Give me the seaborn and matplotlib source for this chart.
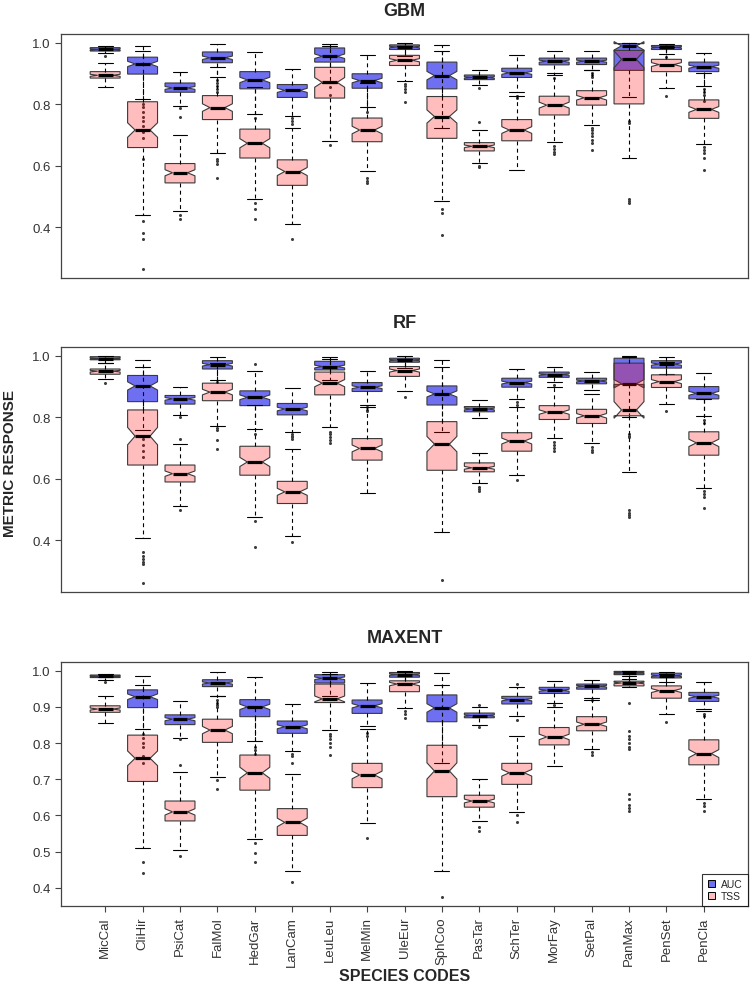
import numpy as np
import matplotlib
matplotlib.use("Agg")
import matplotlib.pyplot as plt
from matplotlib.patches import Patch
import seaborn as sns

SPECIES = ["MicCal", "CliHir", "PsiCat", "FalMol", "HedGar", "LanCam", "LeuLeu",
           "MelMin", "UleEur", "SphCoo", "PasTar", "SchTer", "MorFay", "SetPal",
           "PanMax", "PenSet", "PenCla"]

# per species: (lower whisker, q1, median, q3, upper whisker)
GBM_AUC = [
    (0.965, 0.973, 0.978, 0.984, 0.989),
    (0.817, 0.898, 0.931, 0.953, 0.990),
    (0.795, 0.839, 0.853, 0.869, 0.906),
    (0.887, 0.935, 0.951, 0.970, 0.997),
    (0.768, 0.850, 0.879, 0.906, 0.970),
    (0.763, 0.822, 0.845, 0.864, 0.913),
    (0.870, 0.937, 0.956, 0.983, 0.997),
    (0.792, 0.852, 0.877, 0.899, 0.959),
    (0.958, 0.978, 0.986, 0.993, 0.999),
    (0.724, 0.850, 0.893, 0.937, 0.993),
    (0.863, 0.880, 0.887, 0.895, 0.912),
    (0.841, 0.887, 0.902, 0.917, 0.959),
    (0.895, 0.928, 0.940, 0.950, 0.972),
    (0.910, 0.929, 0.940, 0.950, 0.972),
    (0.823, 0.910, 0.990, 0.997, 0.999),
    (0.962, 0.978, 0.985, 0.991, 0.997),
    (0.858, 0.906, 0.922, 0.937, 0.967),
]
GBM_AUC_OUT = [
    [0.958], [0.80, 0.79, 0.775, 0.76, 0.745, 0.73, 0.71, 0.69, 0.623], [0.787, 0.757],
    [0.878, 0.87, 0.86, 0.85, 0.84], [0.755], [0.755, 0.745, 0.735], [0.855, 0.83],
    [0.775], [0.945], [], [0.852], [0.828, 0.82], [0.885], [0.90, 0.895, 0.89],
    [0.746, 0.74], [0.955], [0.85, 0.84, 0.83, 0.81],
]
GBM_TSS = [
    (0.855, 0.885, 0.894, 0.906, 0.934),
    (0.441, 0.659, 0.716, 0.808, 0.972),
    (0.452, 0.544, 0.577, 0.607, 0.699),
    (0.640, 0.750, 0.789, 0.828, 0.920),
    (0.490, 0.625, 0.673, 0.719, 0.855),
    (0.411, 0.536, 0.581, 0.619, 0.724),
    (0.679, 0.820, 0.871, 0.920, 0.990),
    (0.583, 0.678, 0.716, 0.755, 0.870),
    (0.874, 0.926, 0.943, 0.959, 0.990),
    (0.486, 0.689, 0.760, 0.825, 0.972),
    (0.610, 0.648, 0.663, 0.675, 0.715),
    (0.586, 0.681, 0.716, 0.750, 0.828),
    (0.678, 0.765, 0.797, 0.826, 0.900),
    (0.732, 0.797, 0.821, 0.844, 0.910),
    (0.626, 0.801, 0.946, 0.975, 0.999),
    (0.852, 0.906, 0.929, 0.946, 0.985),
    (0.670, 0.754, 0.783, 0.814, 0.900),
]
GBM_TSS_OUT = [
    [], [0.42, 0.381, 0.36, 0.264], [0.438, 0.428], [0.622, 0.615, 0.605, 0.561],
    [0.48, 0.46, 0.425], [0.362], [0.667], [0.56, 0.55, 0.543],
    [0.866, 0.858, 0.848, 0.84, 0.806], [0.46, 0.447, 0.376], [0.743, 0.60, 0.597], [],
    [0.665, 0.655, 0.645, 0.637], [0.724, 0.715, 0.705, 0.695, 0.685, 0.675, 0.651],
    [0.49, 0.485, 0.478], [0.828], [0.66, 0.65, 0.64, 0.626, 0.586],
]

RF_AUC = [
    (0.975, 0.987, 0.991, 0.997, 0.999),
    (0.760, 0.851, 0.902, 0.936, 0.987),
    (0.808, 0.843, 0.860, 0.871, 0.898),
    (0.922, 0.957, 0.971, 0.984, 0.995),
    (0.761, 0.838, 0.865, 0.886, 0.951),
    (0.751, 0.808, 0.827, 0.845, 0.895),
    (0.920, 0.954, 0.965, 0.982, 0.995),
    (0.840, 0.884, 0.898, 0.913, 0.951),
    (0.960, 0.979, 0.986, 0.992, 0.998),
    (0.753, 0.840, 0.876, 0.902, 0.987),
    (0.799, 0.818, 0.827, 0.835, 0.857),
    (0.859, 0.898, 0.913, 0.927, 0.958),
    (0.914, 0.930, 0.939, 0.947, 0.963),
    (0.889, 0.909, 0.918, 0.927, 0.947),
    (0.800, 0.907, 0.909, 0.992, 0.997),
    (0.940, 0.960, 0.973, 0.984, 0.995),
    (0.804, 0.860, 0.878, 0.900, 0.943),
]
RF_AUC_OUT = [
    [], [0.73, 0.71, 0.69, 0.67], [0.80], [0.915], [0.973, 0.745],
    [0.745, 0.74, 0.735, 0.728], [], [0.832, 0.825, 0.82], [], [], [], [0.85, 0.84],
    [0.905], [], [0.745, 0.74, 0.735], [], [0.79, 0.78],
]
RF_TSS = [
    (0.924, 0.940, 0.950, 0.957, 0.975),
    (0.408, 0.645, 0.739, 0.824, 0.963),
    (0.512, 0.590, 0.617, 0.645, 0.713),
    (0.772, 0.854, 0.882, 0.911, 0.975),
    (0.476, 0.612, 0.655, 0.706, 0.840),
    (0.413, 0.520, 0.558, 0.592, 0.697),
    (0.767, 0.873, 0.911, 0.947, 0.990),
    (0.554, 0.661, 0.699, 0.731, 0.835),
    (0.884, 0.933, 0.952, 0.965, 0.990),
    (0.427, 0.628, 0.713, 0.786, 0.965),
    (0.587, 0.623, 0.636, 0.652, 0.685),
    (0.612, 0.690, 0.723, 0.750, 0.832),
    (0.732, 0.793, 0.817, 0.838, 0.900),
    (0.718, 0.780, 0.805, 0.826, 0.875),
    (0.623, 0.805, 0.824, 0.976, 0.998),
    (0.842, 0.897, 0.916, 0.938, 0.980),
    (0.572, 0.677, 0.717, 0.753, 0.860),
]
RF_TSS_OUT = [
    [0.911], [0.362, 0.35, 0.34, 0.33, 0.324, 0.262], [0.728, 0.50],
    [0.765, 0.758, 0.726, 0.697], [0.462, 0.378], [0.395],
    [0.753, 0.745, 0.735, 0.725, 0.718], [], [0.865], [0.272], [0.574, 0.567, 0.56],
    [0.596], [0.72, 0.71, 0.70, 0.69], [0.704, 0.695, 0.688],
    [0.498, 0.49, 0.482, 0.476], [0.82], [0.56, 0.55, 0.54, 0.506],
]

MAX_AUC = [
    (0.974, 0.981, 0.984, 0.988, 0.991),
    (0.838, 0.898, 0.928, 0.947, 0.984),
    (0.814, 0.851, 0.866, 0.878, 0.916),
    (0.929, 0.956, 0.966, 0.975, 0.995),
    (0.806, 0.873, 0.900, 0.920, 0.982),
    (0.778, 0.827, 0.845, 0.861, 0.908),
    (0.930, 0.966, 0.979, 0.989, 0.997),
    (0.846, 0.882, 0.903, 0.919, 0.966),
    (0.965, 0.982, 0.989, 0.995, 0.998),
    (0.746, 0.859, 0.897, 0.933, 0.993),
    (0.850, 0.870, 0.876, 0.883, 0.900),
    (0.875, 0.908, 0.920, 0.929, 0.956),
    (0.912, 0.937, 0.946, 0.954, 0.972),
    (0.924, 0.949, 0.957, 0.963, 0.974),
    (0.978, 0.989, 0.994, 0.998, 0.999),
    (0.970, 0.980, 0.986, 0.993, 0.997),
    (0.894, 0.915, 0.928, 0.940, 0.970),
]
MAX_AUC_OUT = [
    [0.97], [0.825, 0.815, 0.80, 0.79, 0.765, 0.745], [0.81], [0.92, 0.91, 0.905, 0.90],
    [0.79, 0.78, 0.77], [0.77, 0.765, 0.745], [], [0.829, 0.82], [], [], [0.905, 0.845],
    [0.962, 0.865], [0.905], [0.92], [0.97, 0.965], [], [0.88, 0.875],
]
MAX_TSS = [
    (0.855, 0.885, 0.894, 0.903, 0.931),
    (0.509, 0.694, 0.758, 0.822, 0.960),
    (0.506, 0.585, 0.610, 0.640, 0.720),
    (0.705, 0.802, 0.836, 0.866, 0.930),
    (0.536, 0.670, 0.718, 0.767, 0.900),
    (0.448, 0.545, 0.581, 0.619, 0.716),
    (0.837, 0.912, 0.922, 0.963, 0.990),
    (0.580, 0.677, 0.712, 0.744, 0.840),
    (0.896, 0.942, 0.963, 0.972, 0.995),
    (0.446, 0.652, 0.723, 0.794, 0.960),
    (0.586, 0.623, 0.640, 0.656, 0.702),
    (0.610, 0.686, 0.718, 0.744, 0.820),
    (0.737, 0.795, 0.817, 0.843, 0.900),
    (0.783, 0.834, 0.852, 0.873, 0.920),
    (0.954, 0.958, 0.966, 0.971, 0.985),
    (0.880, 0.924, 0.945, 0.958, 0.990),
    (0.645, 0.740, 0.771, 0.809, 0.890),
]
MAX_TSS_OUT = [
    [], [0.471, 0.440], [0.740, 0.488], [0.698, 0.672], [0.525, 0.497, 0.471], [0.417],
    [0.825, 0.82, 0.81, 0.80, 0.79, 0.767], [0.538], [0.889, 0.88, 0.868], [0.375],
    [0.569, 0.557], [0.60, 0.582], [], [0.775, 0.768],
    [0.912, 0.834, 0.82, 0.81, 0.80, 0.79, 0.783, 0.658, 0.645, 0.63, 0.62, 0.612],
    [0.857], [0.635, 0.625, 0.612],
]

PANELS = [
    ("GBM", GBM_AUC, GBM_AUC_OUT, GBM_TSS, GBM_TSS_OUT, [0.4, 0.6, 0.8, 1.0]),
    ("RF", RF_AUC, RF_AUC_OUT, RF_TSS, RF_TSS_OUT, [0.4, 0.6, 0.8, 1.0]),
    ("MAXENT", MAX_AUC, MAX_AUC_OUT, MAX_TSS, MAX_TSS_OUT,
     [0.4, 0.5, 0.6, 0.7, 0.8, 0.9, 1.0]),
]

N_RUNS = 100  # model runs per box, used for the R style notch
AUC_COLOR = "#6F6FF2"
TSS_COLOR = (1.0, 0.0, 0.0, 0.26)
TSS_LEGEND = "#FFBDBD"

sns.set_style("ticks")
plt.rcParams["font.family"] = ["Liberation Sans", "DejaVu Sans"]


def box_stats(five, outliers):
    """Turn (lo, q1, med, q3, hi) tuples into bxp stats with R notches"""
    stats = []
    for (lo, q1, med, q3, hi), fl in zip(five, outliers):
        half = 1.58 * (q3 - q1) / np.sqrt(N_RUNS)
        stats.append(dict(whislo=lo, q1=q1, med=med, q3=q3, whishi=hi,
                          cilo=med - half, cihi=med + half, fliers=fl))
    return stats


def draw_metric(ax, stats, face, z):
    ax.bxp(stats, positions=np.arange(1, len(SPECIES) + 1), widths=0.8,
           patch_artist=True, shownotches=True, manage_ticks=False, zorder=z,
           boxprops=dict(facecolor=face, edgecolor="#3a3a3a", linewidth=0.8),
           medianprops=dict(color="black", linewidth=2.3, solid_capstyle="butt"),
           whiskerprops=dict(color="black", linewidth=0.8, linestyle=(0, (3.5, 3))),
           capprops=dict(color="black", linewidth=0.8),
           flierprops=dict(marker="o", markersize=2.2, markerfacecolor="#3c3c3c",
                           markeredgecolor="none"))


fig = plt.figure(figsize=(7.53, 9.87), dpi=100)
W, H = 753.0, 987.0
rows = [(35, 279), (348, 593), (663, 907)]
n = len(SPECIES)

for (title, auc, auc_out, tss, tss_out, yticks), (top, bot) in zip(PANELS, rows):
    ax = fig.add_axes([61 / W, 1 - bot / H, (748 - 61) / W, (bot - top) / H])
    draw_metric(ax, box_stats(auc, auc_out), AUC_COLOR, 2)
    draw_metric(ax, box_stats(tss, tss_out), TSS_COLOR, 3)

    # R style axis range: data range plus 4 percent
    vals = [v for t in auc + tss for v in (t[0], t[4])]
    vals += [v for fl in auc_out + tss_out for v in fl]
    lo, hi = min(vals), max(vals)
    pad = 0.04 * (hi - lo)
    ax.set_ylim(lo - pad, hi + pad)
    ax.set_xlim(0.5 - 0.04 * n, n + 0.5 + 0.04 * n)

    ax.set_yticks(yticks)
    ax.set_yticklabels([f"{t:.1f}" for t in yticks])
    ax.tick_params(axis="y", length=4.5, width=0.8, color="#444", labelsize=9.5,
                   labelcolor="#333", pad=3)
    for sp in ax.spines.values():
        sp.set_color("#444")
        sp.set_linewidth(0.9)

    fig.text((61 + 748) / 2 / W, 1 - (top - 24) / H, title, ha="center",
             va="center", fontsize=13, fontweight="bold")

    if title == "MAXENT":
        ax.set_xticks(np.arange(1, n + 1))
        ax.set_xticklabels(SPECIES, rotation=90, fontsize=9.5, color="#333")
        ax.tick_params(axis="x", length=4.5, width=0.8, color="#444", pad=3)
        handles = [Patch(facecolor=AUC_COLOR, edgecolor="black", linewidth=0.7),
                   Patch(facecolor=TSS_LEGEND, edgecolor="black", linewidth=0.7)]
        leg = ax.legend(handles, ["AUC", "TSS"], loc="lower right", fontsize=7.5,
                        frameon=True, fancybox=False, borderaxespad=0,
                        handlelength=0.7, handleheight=0.7, handletextpad=0.6,
                        labelspacing=0.15, borderpad=0.5)
        leg.get_frame().set_edgecolor("black")
        leg.get_frame().set_linewidth(0.8)
    else:
        ax.set_xticks([])

fig.text(10 / W, 1 - 464 / H, "METRIC RESPONSE", rotation=90, ha="center",
         va="center", fontsize=11, fontweight="bold")
fig.text(405 / W, 1 - 977 / H, "SPECIES CODES", ha="center", va="center",
         fontsize=11.5, fontweight="bold")

fig.savefig("out.png", dpi=100)
